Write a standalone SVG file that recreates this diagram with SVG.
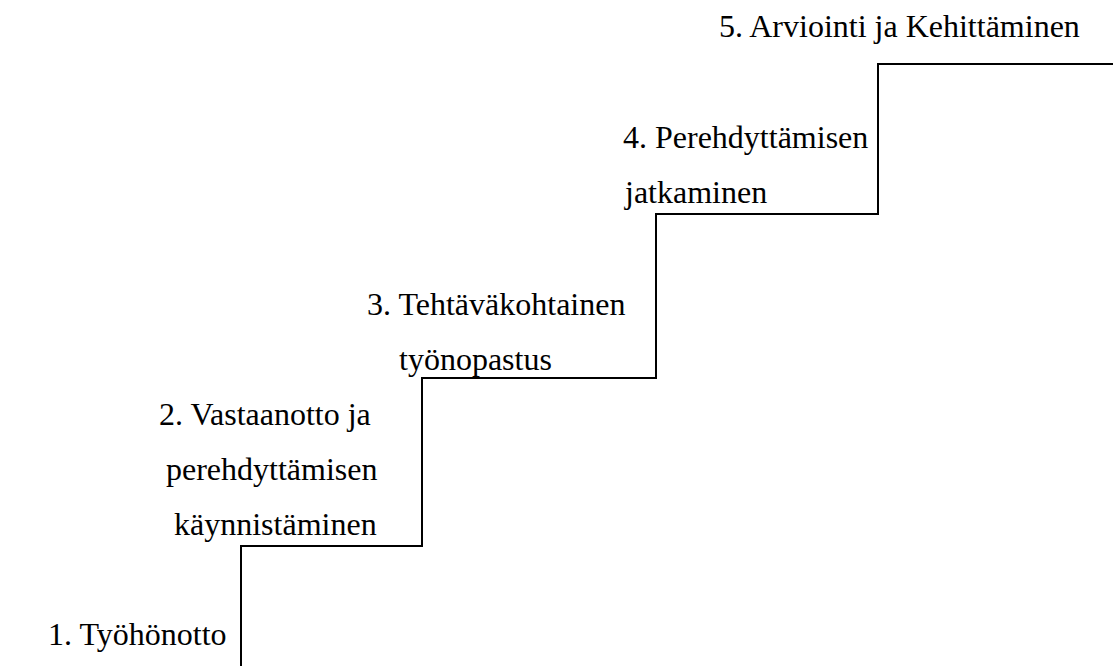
<svg xmlns="http://www.w3.org/2000/svg" width="1113" height="666" viewBox="0 0 1113 666">
<style>
text{font-family:"Liberation Serif","Times New Roman",serif;font-size:32px;fill:#000}
.stair{fill:none;stroke:#000;stroke-width:2}
</style>
<rect width="1113" height="666" fill="#fff"/>
<g id="connectors">
<path class="stair" d="M241 666 V546 H422 V378 H656 V214 H878 V64 H1113"/>
</g>
<g id="step1"><text x="48" y="645">1. Työhönotto</text></g>
<g id="step2">
<text x="159" y="425">2. Vastaanotto ja</text>
<text x="166" y="480">perehdyttämisen</text>
<text x="174" y="535">käynnistäminen</text>
</g>
<g id="step3">
<text x="367" y="315">3. Tehtäväkohtainen</text>
<text x="399" y="370">työnopastus</text>
</g>
<g id="step4">
<text x="623" y="148">4. Perehdyttämisen</text>
<text x="625" y="203">jatkaminen</text>
</g>
<g id="step5"><text x="719" y="37">5. Arviointi ja Kehittäminen</text></g>
</svg>
